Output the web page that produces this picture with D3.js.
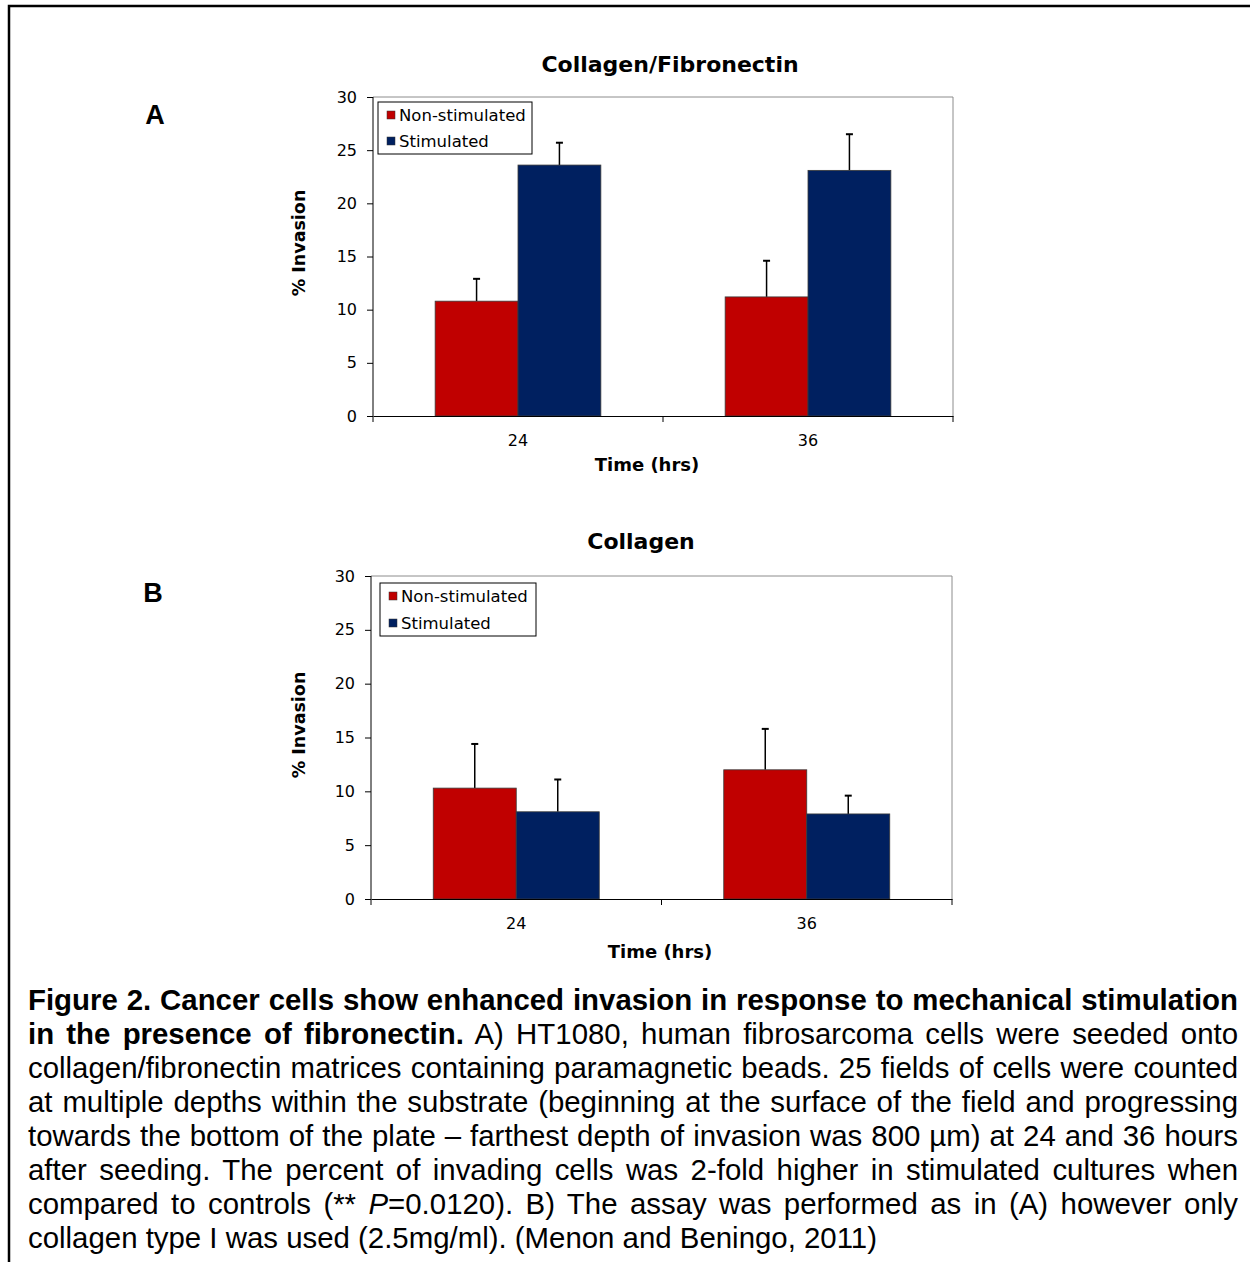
<!DOCTYPE html>
<html>
<head>
<meta charset="utf-8">
<script src="https://cdn.jsdelivr.net/npm/d3@7"></script>
<style>
  body { margin: 0; background: #fff; }
  #wrap { position: relative; width: 1250px; height: 1262px; overflow: hidden; }
  svg { position: absolute; left: 0; top: 0; }
  #caption { position: absolute; left: 28px; top: 983px; width: 1210px;
    font-family: "Liberation Sans", Arial, sans-serif; font-size: 29.4px; line-height: 34px; color: #000; }
  #caption div { text-align: justify; text-align-last: justify; white-space: nowrap; transform-origin: 0 0; }
  #caption div.last { text-align-last: left; }
</style>
</head>
<body>
<div id="wrap"></div>
<script>
// data
const times = ["24", "36"];
const series = ["Non-stimulated", "Stimulated"];
const colors = ["#c00000", "#002060"];
const yTicks = [0, 5, 10, 15, 20, 25, 30];

const fibNonStim = [10.8, 11.2];
const fibNonStimErr = [2.1, 3.4];
const fibStim = [23.6, 23.1];
const fibStimErr = [2.1, 3.4];

const colNonStim = [10.3, 12.0];
const colNonStimErr = [4.1, 3.8];
const colStim = [8.1, 7.9];
const colStimErr = [3.0, 1.7];

const captionLines = [
  [["b", "Figure 2. Cancer cells show enhanced invasion in response to mechanical stimulation"]],
  [["b", "in the presence of fibronectin."], ["n", " A) HT1080, human fibrosarcoma cells were seeded onto"]],
  [["n", "collagen/fibronectin matrices containing paramagnetic beads. 25 fields of cells were counted"]],
  [["n", "at multiple depths within the substrate (beginning at the surface of the field and progressing"]],
  [["n", "towards the bottom of the plate \u2013 farthest depth of invasion was 800 \u00b5m) at 24 and 36 hours"]],
  [["n", "after seeding. The percent of invading cells was 2-fold higher in stimulated cultures when"]],
  [["n", "compared to controls (** "], ["i", "P"], ["n", "=0.0120). B) The assay was performed as in (A) however only"]],
  [["n", "collagen type I was used (2.5mg/ml). (Menon and Beningo, 2011)"]]
];

const wrap = d3.select("#wrap");
const svg = wrap.append("svg").attr("width", 1250).attr("height", 1262);

// outer frame
svg.append("path")
  .attr("d", "M9,1262 L9,6 L1252,6")
  .attr("fill", "none")
  .attr("stroke", "#000")
  .attr("stroke-width", 2.5);

const font = "DejaVu Sans, Verdana, sans-serif";

function drawPanel(opts) {
  const g = svg.append("g");
  const x = d3.scaleBand().domain(times).range([opts.x0, opts.x1]);
  const xs = d3.scaleBand().domain(series).range([0, x.bandwidth()]).paddingOuter(0.75);
  const y = d3.scaleLinear().domain([0, 30]).range([opts.y0, opts.y1]);

  // frame top / right
  g.append("path")
    .attr("d", `M${opts.x0},${opts.y1} L${opts.x1},${opts.y1} L${opts.x1},${opts.y0}`)
    .attr("fill", "none").attr("stroke", "#8c8c8c").attr("stroke-width", 1);

  const rows = [];
  times.forEach((t, i) => {
    rows.push({t: t, s: series[0], v: opts.non[i], e: opts.nonErr[i], c: colors[0]});
    rows.push({t: t, s: series[1], v: opts.stim[i], e: opts.stimErr[i], c: colors[1]});
  });

  // error bars (upper only)
  const eb = g.selectAll(".err").data(rows).enter().append("g");
  eb.append("line")
    .attr("x1", d => x(d.t) + xs(d.s) + xs.bandwidth() / 2)
    .attr("x2", d => x(d.t) + xs(d.s) + xs.bandwidth() / 2)
    .attr("y1", d => y(d.v)).attr("y2", d => y(d.v + d.e))
    .attr("stroke", "#000").attr("stroke-width", 1.5);
  eb.append("line")
    .attr("x1", d => x(d.t) + xs(d.s) + xs.bandwidth() / 2 - 3.5)
    .attr("x2", d => x(d.t) + xs(d.s) + xs.bandwidth() / 2 + 3.5)
    .attr("y1", d => y(d.v + d.e)).attr("y2", d => y(d.v + d.e))
    .attr("stroke", "#000").attr("stroke-width", 2);

  g.selectAll(".bar").data(rows).enter().append("rect")
    .attr("x", d => x(d.t) + xs(d.s))
    .attr("y", d => y(d.v))
    .attr("width", xs.bandwidth())
    .attr("height", d => y(0) - y(d.v))
    .attr("fill", d => d.c)
    .attr("stroke", "#3a3a3a").attr("stroke-width", 0.8);

  // y axis
  const ya = g.append("g").attr("transform", `translate(${opts.x0},0)`)
    .call(d3.axisLeft(y).tickValues(yTicks).tickSize(6).tickPadding(10));
  ya.select(".domain").attr("stroke", "#000").attr("d", `M0,${opts.y0}V${opts.y1}`);
  ya.selectAll("text").attr("font-family", font).attr("font-size", 16).attr("fill", "#000");

  // x axis with boundary ticks
  const xa = g.append("g").attr("transform", `translate(0,${opts.y0})`)
    .call(d3.axisBottom(x).tickSize(0).tickPadding(19));
  xa.select(".domain").attr("stroke", "#000");
  xa.selectAll("text").attr("font-family", font).attr("font-size", 16).attr("fill", "#000");
  const bounds = times.map(t => x(t)).concat([x(times[times.length - 1]) + x.bandwidth()]);
  xa.selectAll(".bt").data(bounds).enter().append("line")
    .attr("x1", d => d).attr("x2", d => d).attr("y1", 0).attr("y2", 6)
    .attr("stroke", "#000");

  // titles
  g.append("text").attr("x", opts.titleX).attr("y", opts.titleY)
    .attr("text-anchor", "middle").attr("font-family", font).attr("font-weight", "bold")
    .attr("font-size", 22).text(opts.title);
  g.append("text").attr("x", opts.xLabX).attr("y", opts.xLabY)
    .attr("text-anchor", "middle").attr("font-family", font).attr("font-weight", "bold")
    .attr("font-size", 18).text("Time (hrs)");
  g.append("text")
    .attr("transform", `translate(${opts.yLabX},${opts.yLabY}) rotate(-90)`)
    .attr("text-anchor", "middle").attr("font-family", font).attr("font-weight", "bold")
    .attr("font-size", 17.5).text("% Invasion");

  // panel letter
  g.append("text").attr("x", opts.letterX).attr("y", opts.letterY)
    .attr("text-anchor", "middle").attr("font-family", "Liberation Sans, Arial, sans-serif")
    .attr("font-weight", "bold").attr("font-size", 27).text(opts.letter);

  // legend
  const lg = g.append("g").attr("transform", `translate(${opts.legX},${opts.legY})`);
  lg.append("rect").attr("width", opts.legW).attr("height", opts.legH)
    .attr("fill", "#fff").attr("stroke", "#000").attr("stroke-width", 1);
  const it = lg.selectAll(".li").data(series).enter().append("g")
    .attr("transform", (d, i) => `translate(0,${13 + i * opts.legStep})`);
  it.append("rect").attr("x", 9).attr("y", -4).attr("width", 8).attr("height", 8)
    .attr("fill", (d, i) => colors[i]).attr("stroke", "#333").attr("stroke-width", 0.5);
  it.append("text").attr("x", 21).attr("y", 6)
    .attr("font-family", font).attr("font-size", 16.5).text(d => d);
}

drawPanel({
  x0: 373, x1: 953, y0: 416, y1: 97,
  non: fibNonStim, nonErr: fibNonStimErr, stim: fibStim, stimErr: fibStimErr,
  title: "Collagen/Fibronectin", titleX: 670, titleY: 72,
  xLabX: 647, xLabY: 471, yLabX: 305, yLabY: 243,
  letter: "A", letterX: 155, letterY: 124,
  legX: 378, legY: 102, legW: 154, legH: 52, legStep: 26
});

drawPanel({
  x0: 371, x1: 952, y0: 899, y1: 576,
  non: colNonStim, nonErr: colNonStimErr, stim: colStim, stimErr: colStimErr,
  title: "Collagen", titleX: 641, titleY: 549,
  xLabX: 660, xLabY: 958, yLabX: 305, yLabY: 725,
  letter: "B", letterX: 153, letterY: 602,
  legX: 380, legY: 583, legW: 156, legH: 53, legStep: 27
});

// caption
const cap = wrap.append("div").attr("id", "caption");
captionLines.forEach((line, i) => {
  const div = cap.append("div").classed("last", i === captionLines.length - 1);
  line.forEach(run => {
    const sp = div.append("span").text(run[1]);
    if (run[0] === "b") sp.style("font-weight", "bold");
    if (run[0] === "i") sp.style("font-style", "italic");
  });
  // squeeze a line if its natural width runs past the column
  const w = div.node().scrollWidth;
  if (w > 1210) div.style("transform", `scaleX(${1210 / w})`);
});
</script>
</body>
</html>
